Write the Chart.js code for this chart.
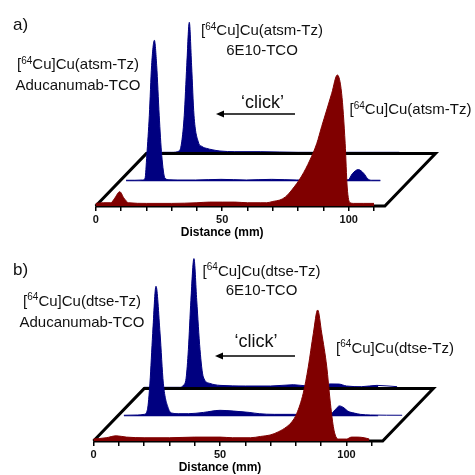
<!DOCTYPE html>
<html>
<head>
<meta charset="utf-8">
<script src="https://cdn.jsdelivr.net/npm/chart.js@4.4.1/dist/chart.umd.min.js"></script>
<style>
  html, body { margin: 0; padding: 0; background: #fff; }
  .panel { position: absolute; left: 0; width: 475px; height: 240px; }
  #panelA { top: 0; }
  #panelB { top: 235px; }
</style>
</head>
<body>
<div class="panel" id="panelA"><canvas id="chartA" width="475" height="240"></canvas></div>
<div class="panel" id="panelB"><canvas id="chartB" width="475" height="240"></canvas></div>
<script>
// radio-TLC traces, distance in mm, counts in arbitrary units (peak ~100)
const labeledTicks = [0, 50, 100];

// panel a) atsm
const aFreeDist   = [0, 3, 6, 7.5, 9.5, 11.2, 13, 20, 30, 40, 45, 50, 55, 60, 65, 67.6, 70, 72.8, 75, 77.5, 81.4, 84.7, 87.4, 89.3, 91.3, 93.3, 95.5, 97.2, 98.6, 99.4, 100.5, 102, 106, 110];
const aFreeCounts = [2, 2.5, 2.5, 6, 11, 6, 2.5, 2, 2, 2.5, 3, 3, 3, 2.5, 2.5, 2.5, 3.5, 4.6, 7, 12.3, 23, 35.4, 48.2, 61, 73.8, 86.7, 100.8, 86.7, 48.2, 14.6, 2.5, 2, 2, 2];
const aAduDist    = [2.5, 6, 9, 10, 10.7, 11.7, 12.6, 13.7, 14.6, 15.6, 16.6, 17.9, 19.5, 23, 30, 40, 50, 60, 70, 80, 88, 90.3, 92, 94.3, 96.5, 98, 99.6, 103, 112.5];
const aAduCounts  = [0.8, 0.8, 1, 2.3, 20, 50.8, 89.2, 108.5, 89.2, 50.8, 20, 2.3, 1.2, 1, 1, 1.5, 1, 1.5, 1, 1, 1, 1.2, 6, 9, 6, 2, 0.8, 0.8, 0.8];
const a6e10Dist   = [0, 5, 10, 13, 14, 15, 16, 17, 17.9, 18.85, 20.55, 22, 23.9, 26, 29.1, 35, 45, 60, 80, 100, 114.5];
const a6e10Counts = [1, 1, 1, 2, 9, 29.5, 68, 101, 68, 29.5, 9, 5.5, 4, 3, 2, 1.5, 1.5, 1, 1, 1, 1];

// panel b) dtse
const bFreeDist   = [0, 5, 9, 13, 20, 30, 40, 50, 55, 62, 66, 69.8, 73, 76.4, 78.5, 80.3, 82.9, 84.9, 86.9, 88.6, 90.2, 92.2, 93.5, 94.8, 95.8, 97, 100, 102, 104.5, 107, 109];
const bFreeCounts = [1.5, 2.5, 4, 3, 2.5, 2.5, 3, 3, 2.5, 2.5, 3.5, 4.6, 7, 11, 15, 21, 36.7, 57, 82.8, 100.8, 83, 57, 31.5, 11, 3.3, 1.5, 1.5, 3, 3, 2.5, 1.5];
const bAduDist    = [2.5, 8, 10.5, 11.8, 12.8, 13.9, 15.2, 16.8, 18.1, 20.1, 21.4, 24, 28, 34, 40.5, 46, 52, 56, 62, 70, 78, 84, 86, 87.7, 89.5, 91, 93.5, 96, 100, 112.5];
const bAduCounts  = [0.8, 1, 1.5, 5, 25.5, 63.8, 100, 64, 25.5, 6, 2.5, 2, 2, 3, 4.6, 4, 3, 2, 1.5, 1.5, 1.2, 1.5, 5, 8, 6.5, 4, 2.5, 1.5, 1, 0.8];
const b6e10Dist   = [0, 8, 14, 15.5, 16.6, 17.5, 18.5, 19.7, 20.8, 22.1, 23.4, 26, 30, 40, 50, 59, 65, 70, 73.5, 77, 80, 86, 92, 100, 114.5];
const b6e10Counts = [1, 1, 1, 2.5, 8, 30, 68, 100, 68, 30, 9, 4, 2.5, 2, 2, 3, 2, 2.5, 3.6, 3.5, 2, 1.5, 2.5, 1.5, 1];

// lanes of the 3D stack (shift in mm, shift in counts)
const laneFront = { dx: 0, dy: 0 };
const laneMid = { dx: 9.5, dy: 19 };
const laneBack = { dx: 20, dy: 40.3 };
const plateLength = 114.3;

const blue = '#000080';
const red = '#800000';
const fontFam = '"Liberation Sans", Arial, sans-serif';

function lane(dist, counts, shift, color) {
  return {
    data: dist.map((d, i) => ({ x: d + shift.dx, y: counts[i] + shift.dy })),
    borderColor: color,
    backgroundColor: color,
    borderWidth: 1,
    pointRadius: 0,
    fill: { value: shift.dy },
    cubicInterpolationMode: 'monotone',
    clip: false
  };
}

function plate() {
  return {
    data: [
      { x: 0, y: 0 },
      { x: plateLength, y: 0 },
      { x: plateLength + laneBack.dx, y: laneBack.dy },
      { x: laneBack.dx, y: laneBack.dy },
      { x: 0, y: 0 }
    ],
    borderColor: '#000',
    borderWidth: 3,
    borderJoinStyle: 'miter',
    pointRadius: 0,
    fill: false,
    tension: 0,
    clip: false
  };
}

function drawTracer(ctx, rest, cx, y) {
  const big = '15px ' + fontFam, small = '10px ' + fontFam;
  ctx.font = big;
  const w1 = ctx.measureText('[').width;
  const w3 = ctx.measureText('Cu]' + rest).width;
  ctx.font = small;
  const w2 = ctx.measureText('64').width;
  let x = cx - (w1 + w2 + w3) / 2;
  ctx.textAlign = 'left';
  ctx.textBaseline = 'alphabetic';
  ctx.font = big; ctx.fillText('[', x, y); x += w1;
  ctx.font = small; ctx.fillText('64', x, y - 5.5); x += w2;
  ctx.font = big; ctx.fillText('Cu]' + rest, x, y);
}

function labels(p) {
  return {
    id: 'plateText',
    afterDraw(chart) {
      const ctx = chart.ctx;
      ctx.save();
      ctx.fillStyle = '#111';
      ctx.textBaseline = 'alphabetic';
      ctx.textAlign = 'left';
      ctx.font = '17px ' + fontFam;
      ctx.fillText(p.tag, 13, p.tagY);

      drawTracer(ctx, p.rest, p.top.cx, p.top.y);
      ctx.font = '15px ' + fontFam;
      ctx.textAlign = 'center';
      ctx.fillText('6E10-TCO', p.top.cx, p.top.y + 19.5);

      drawTracer(ctx, p.rest, p.left.cx, p.left.y);
      ctx.font = '15px ' + fontFam;
      ctx.textAlign = 'center';
      ctx.fillText('Aducanumab-TCO', p.left.cx, p.left.y + 21);

      drawTracer(ctx, p.rest, p.right.cx, p.right.y);

      ctx.font = '18px ' + fontFam;
      ctx.textAlign = 'center';
      ctx.fillText('\u2018click\u2019', p.click.cx, p.click.y);

      // arrow
      ctx.strokeStyle = '#000';
      ctx.lineWidth = 1.5;
      ctx.beginPath();
      ctx.moveTo(p.arrow.x1, p.arrow.y);
      ctx.lineTo(p.arrow.x0 + 6, p.arrow.y);
      ctx.stroke();
      ctx.fillStyle = '#000';
      ctx.beginPath();
      ctx.moveTo(p.arrow.x0, p.arrow.y);
      ctx.lineTo(p.arrow.x0 + 8, p.arrow.y - 3.5);
      ctx.lineTo(p.arrow.x0 + 8, p.arrow.y + 3.5);
      ctx.closePath();
      ctx.fill();

      // axis title, centred under 50 mm
      const xs = chart.scales.x;
      ctx.font = 'bold 12px ' + fontFam;
      ctx.textAlign = 'center';
      ctx.textBaseline = 'middle';
      ctx.fillText('Distance (mm)', xs.getPixelForValue(50), 233);
      ctx.restore();
    }
  };
}

function makeChart(id, traces, padLeft, text) {
  const ctx = document.getElementById(id).getContext('2d');
  return new Chart(ctx, {
    type: 'line',
    data: {
      datasets: [
        lane(traces.free[0], traces.free[1], laneFront, red),
        lane(traces.adu[0], traces.adu[1], laneMid, blue),
        plate(),
        lane(traces.e10[0], traces.e10[1], laneBack, blue)
      ]
    },
    options: {
      responsive: false,
      animation: false,
      layout: { padding: { left: padLeft, right: 475 - padLeft - 112.5 * 2.53, top: 11, bottom: 0 } },
      scales: {
        x: {
          type: 'linear',
          min: 0,
          max: 112.5,
          afterFit: s => { s.height = 34; },
          grid: { drawOnChartArea: false, tickLength: 5, color: '#000', lineWidth: 1.5 },
          border: { color: '#000', width: 1.5 },
          ticks: {
            stepSize: 10,
            includeBounds: false,
            autoSkip: false,
            maxRotation: 0,
            padding: 2,
            color: '#111',
            font: { family: fontFam, size: 11, weight: 'bold' },
            callback: v => labeledTicks.includes(v) ? String(v) : ''
          }
        },
        y: { display: false, min: 0, max: 150 }
      },
      plugins: {
        legend: { display: false },
        tooltip: { enabled: false }
      }
    },
    plugins: [labels(text)]
  });
}

makeChart('chartA',
  { free: [aFreeDist, aFreeCounts], adu: [aAduDist, aAduCounts], e10: [a6e10Dist, a6e10Counts] },
  95.7,
  {
    tag: 'a)', tagY: 30, rest: 'Cu(atsm-Tz)',
    top: { cx: 262, y: 35 }, left: { cx: 78, y: 69 }, right: { cx: 410.5, y: 114 },
    click: { cx: 262.5, y: 108 }, arrow: { x0: 216, x1: 295, y: 114 }
  });

makeChart('chartB',
  { free: [bFreeDist, bFreeCounts], adu: [bAduDist, bAduCounts], e10: [b6e10Dist, b6e10Counts] },
  93.5,
  {
    tag: 'b)', tagY: 40, rest: 'Cu(dtse-Tz)',
    top: { cx: 261.5, y: 40.5 }, left: { cx: 82, y: 70.5 }, right: { cx: 395, y: 117.5 },
    click: { cx: 256, y: 112 }, arrow: { x0: 215, x1: 295, y: 121 }
  });
</script>
</body>
</html>
